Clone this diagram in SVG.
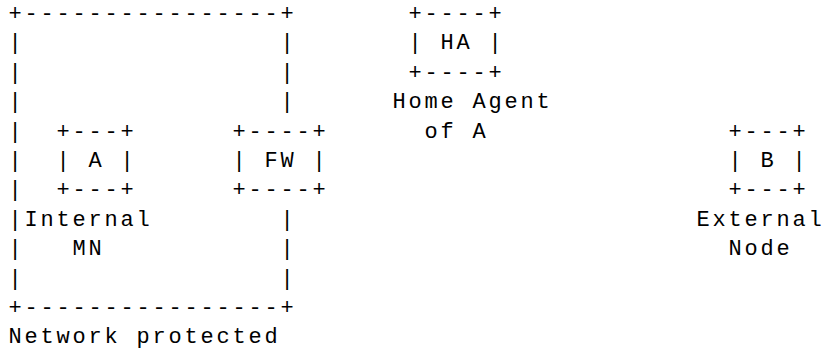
<svg xmlns="http://www.w3.org/2000/svg" width="823" height="349" viewBox="0 0 823 349">
<style>
text{font-family:"Nimbus Mono PS","Courier New","Liberation Mono",monospace;font-size:22px;letter-spacing:2.8px;fill:#000;white-space:pre}
</style>
<rect width="823" height="349" fill="#fff"/>
<g id="connectors"></g>
<g id="network">
<text xml:space="preserve"><tspan x="8.4" y="20">+----------------+</tspan><tspan x="8.4" y="49.4">|</tspan><tspan x="280.4" y="49.4">|</tspan><tspan x="8.4" y="78.8">|</tspan><tspan x="280.4" y="78.8">|</tspan><tspan x="8.4" y="108.2">|</tspan><tspan x="280.4" y="108.2">|</tspan><tspan x="8.4" y="137.6">|</tspan><tspan x="8.4" y="167">|</tspan><tspan x="8.4" y="196.4">|</tspan><tspan x="8.4" y="225.8">|</tspan><tspan x="280.4" y="225.8">|</tspan><tspan x="8.4" y="255.2">|</tspan><tspan x="280.4" y="255.2">|</tspan><tspan x="8.4" y="284.6">|</tspan><tspan x="280.4" y="284.6">|</tspan><tspan x="8.4" y="314">+----------------+</tspan><tspan x="8.4" y="343.4">Network protected</tspan></text>
</g>
<g id="nodeA">
<text xml:space="preserve"><tspan x="56.4" y="137.6">+---+</tspan><tspan x="56.4" y="167">| A |</tspan><tspan x="56.4" y="196.4">+---+</tspan><tspan x="24.4" y="225.8">Internal</tspan><tspan x="72.4" y="255.2">MN</tspan></text>
</g>
<g id="nodeFW">
<text xml:space="preserve"><tspan x="232.4" y="137.6">+----+</tspan><tspan x="232.4" y="167">| FW |</tspan><tspan x="232.4" y="196.4">+----+</tspan></text>
</g>
<g id="nodeHA">
<text xml:space="preserve"><tspan x="408.4" y="20">+----+</tspan><tspan x="408.4" y="49.4">| HA |</tspan><tspan x="408.4" y="78.8">+----+</tspan><tspan x="392.4" y="108.2">Home Agent</tspan><tspan x="424.4" y="137.6">of A</tspan></text>
</g>
<g id="nodeB">
<text xml:space="preserve"><tspan x="728.4" y="137.6">+---+</tspan><tspan x="728.4" y="167">| B |</tspan><tspan x="728.4" y="196.4">+---+</tspan><tspan x="696.4" y="225.8">External</tspan><tspan x="728.4" y="255.2">Node</tspan></text>
</g>
</svg>
